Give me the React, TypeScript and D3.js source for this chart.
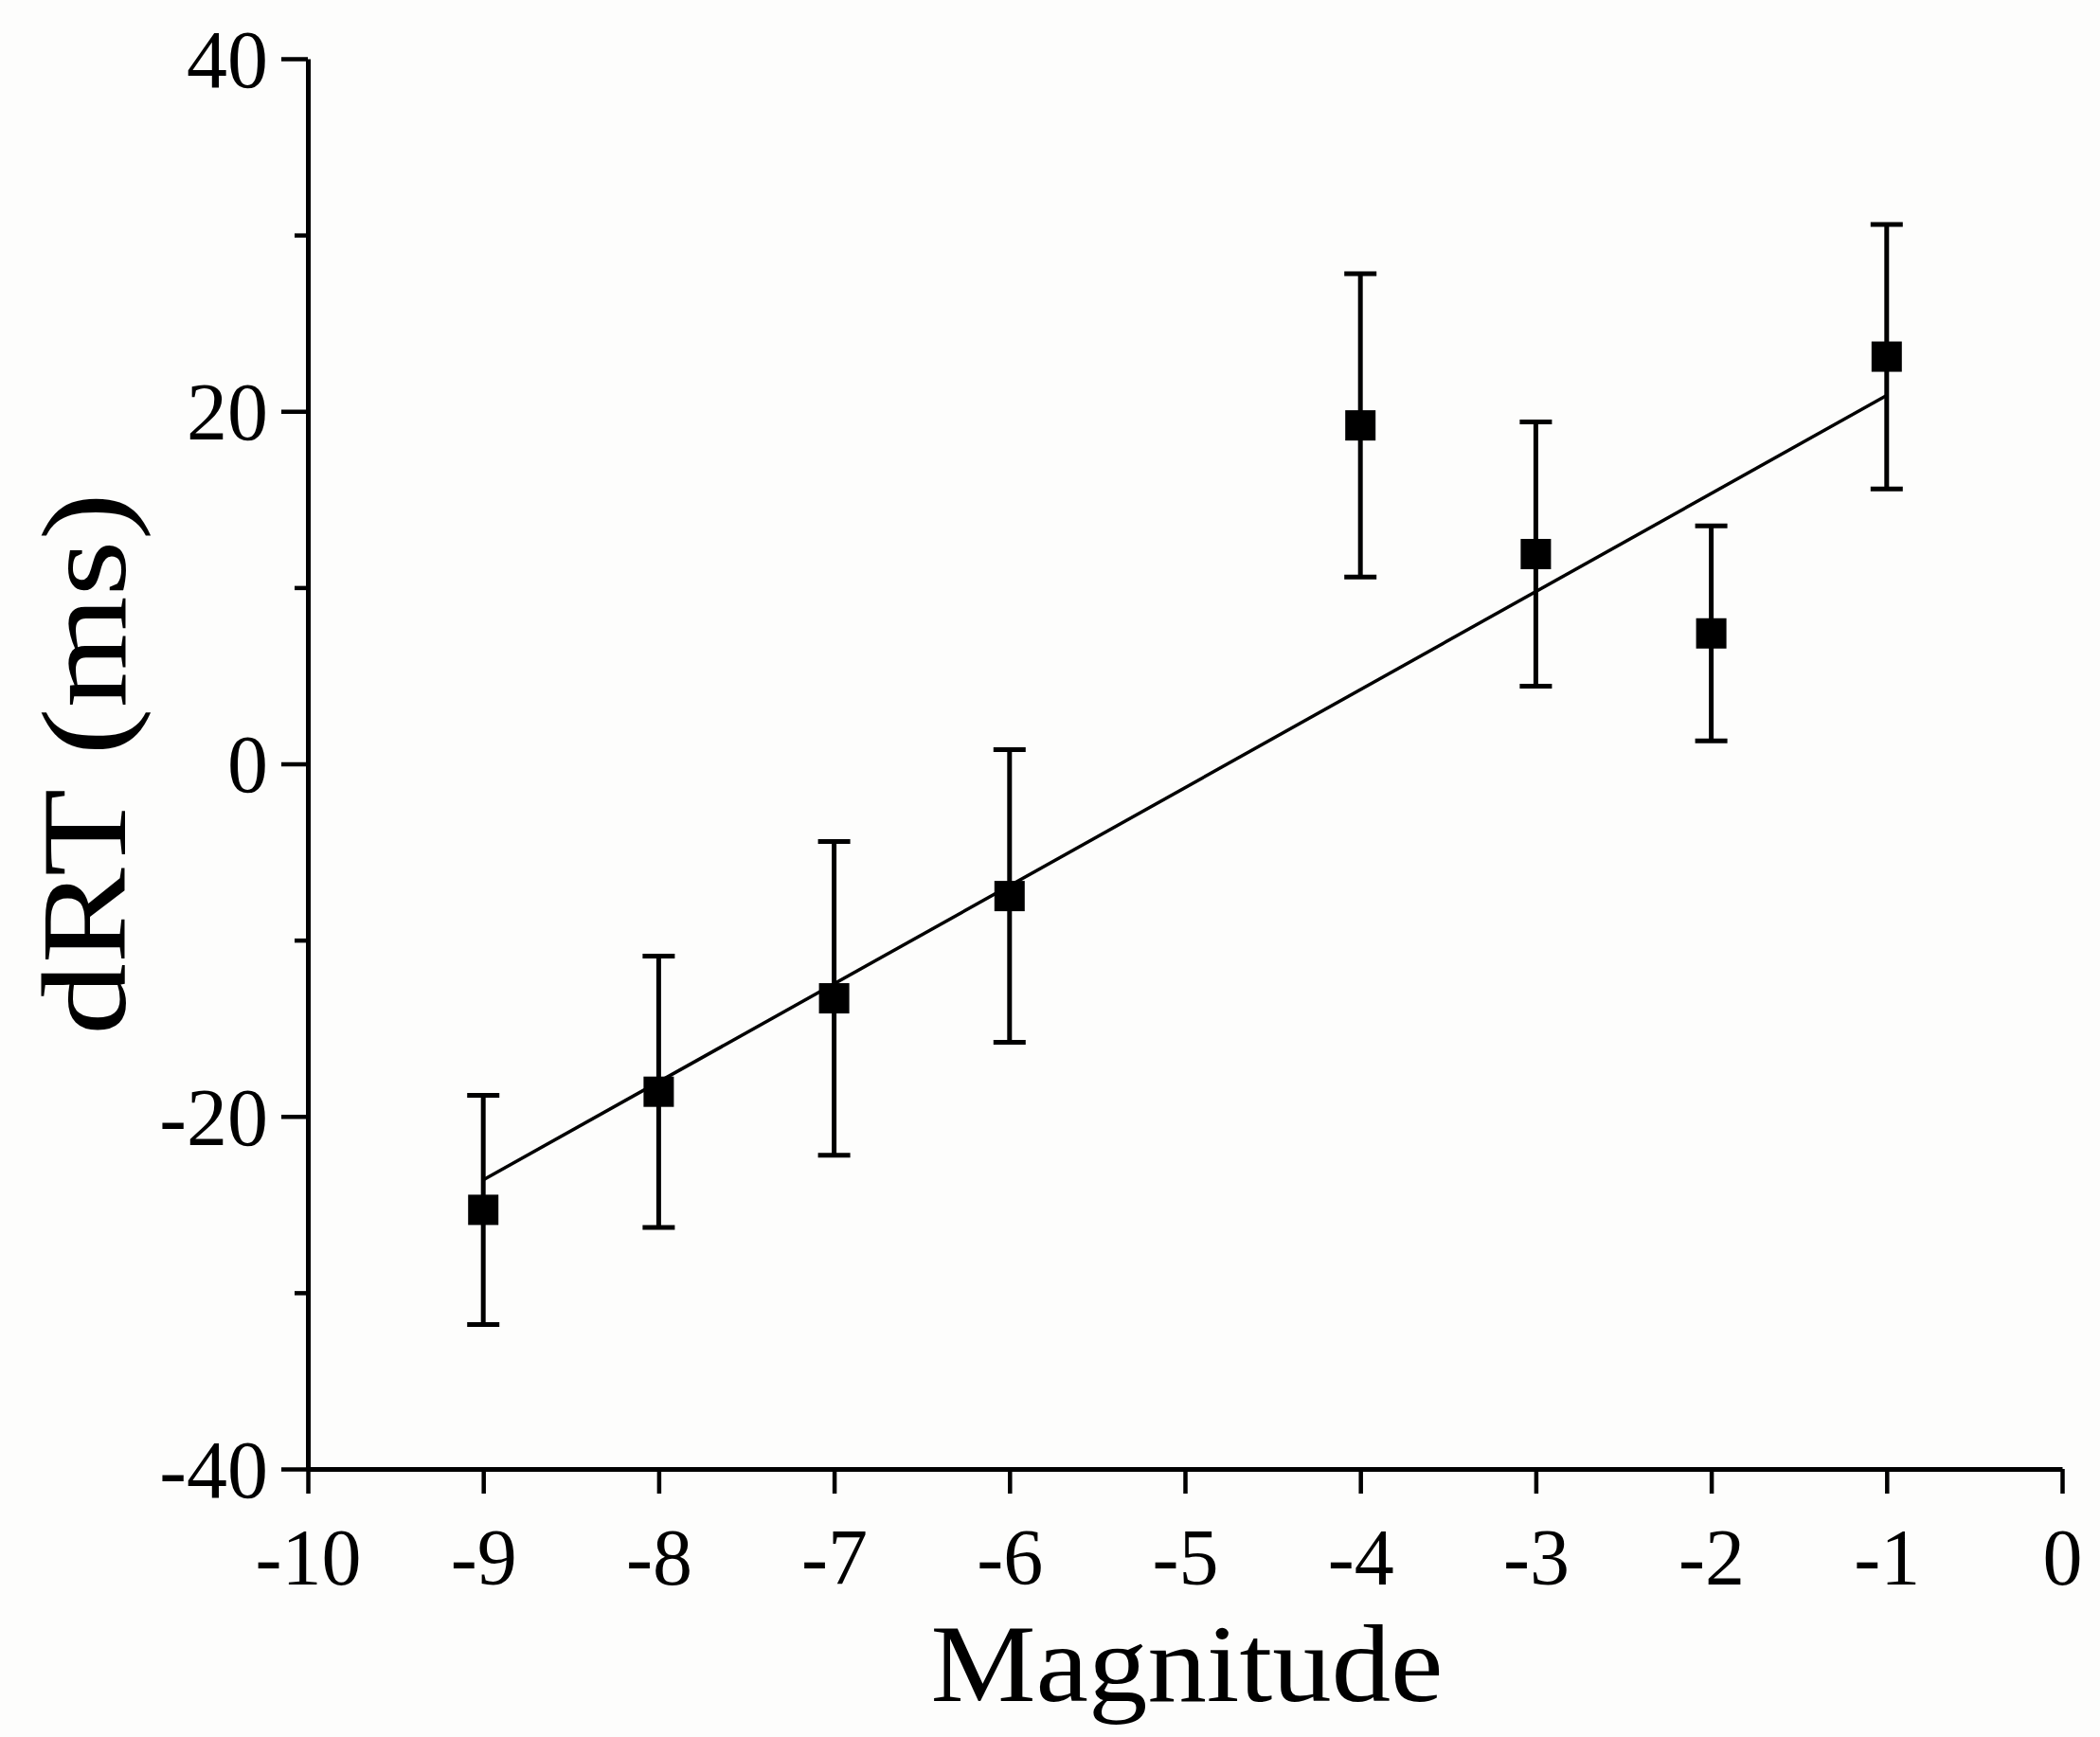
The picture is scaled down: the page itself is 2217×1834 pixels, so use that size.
import { useEffect, useRef } from "react";
import * as d3 from "d3";

// magnitude levels and mean dRT (ms) with error bar half-widths
const magnitudes = [-9, -8, -7, -6, -4, -3, -2, -1];
const meanRT = [-25.3, -18.6, -13.3, -7.5, 19.2, 11.9, 7.4, 23.1];
const errRT = [6.5, 7.7, 8.9, 8.3, 8.6, 7.5, 6.1, 7.5];

// linear fit endpoints
const fitX = [-9, -1];
const fitY = [-23.6, 20.9];

const xTicks = [-10, -9, -8, -7, -6, -5, -4, -3, -2, -1, 0];
const yTicks = [-40, -20, 0, 20, 40];
const yMinorTicks = [-30, -10, 10, 30];

const W = 2217;
const H = 1834;
const FONT = "'Liberation Serif', 'Times New Roman', serif";

export default function App() {
  const svgRef = useRef<SVGSVGElement>(null);

  useEffect(() => {
    if (!svgRef.current) return;
    const svg = d3.select(svgRef.current);
    svg.selectAll("*").remove();

    const margin = { top: 62, right: 40, bottom: 283, left: 325 };
    const x = d3.scaleLinear().domain([-10, 0]).range([margin.left, 2177]);
    const y = d3.scaleLinear().domain([-40, 40]).range([H - margin.bottom, margin.top]);
    const fmt = (d: d3.NumberValue) => String(d); // plain hyphen, like the original

    svg.append("rect").attr("width", W).attr("height", H).attr("fill", "#fdfdfc");

    // x axis
    const xAxis = svg
      .append("g")
      .attr("transform", `translate(0,${y(-40)})`)
      .call(
        d3.axisBottom(x).tickValues(xTicks).tickFormat(fmt).tickSize(26).tickPadding(36).tickSizeOuter(0),
      );
    xAxis.select(".domain").attr("stroke", "#000").attr("stroke-width", 5);
    xAxis.selectAll(".tick line").attr("stroke", "#000").attr("stroke-width", 4.5);
    xAxis
      .selectAll("text")
      .attr("font-family", FONT)
      .attr("font-size", 84)
      .attr("fill", "#000")
      .attr("dy", "0.71em");

    // y axis minor ticks
    svg
      .append("g")
      .attr("transform", `translate(${x(-10)},0)`)
      .call(d3.axisLeft(y).tickValues(yMinorTicks).tickSize(14).tickFormat(() => ""))
      .call((g) => g.select(".domain").remove())
      .call((g) => g.selectAll(".tick line").attr("stroke", "#000").attr("stroke-width", 4.5));

    // y axis
    const yAxis = svg
      .append("g")
      .attr("transform", `translate(${x(-10)},0)`)
      .call(
        d3.axisLeft(y).tickValues(yTicks).tickFormat(fmt).tickSize(28).tickPadding(14).tickSizeOuter(0),
      );
    yAxis.select(".domain").attr("stroke", "#000").attr("stroke-width", 5);
    yAxis.selectAll(".tick line").attr("stroke", "#000").attr("stroke-width", 4.5);
    yAxis
      .selectAll("text")
      .attr("font-family", FONT)
      .attr("font-size", 86)
      .attr("fill", "#000")
      .attr("dy", "0.34em");

    const pts = magnitudes.map((m, i) => ({ m, v: meanRT[i], e: errRT[i] }));
    const cap = 17;

    // error bars
    const eb = svg.append("g").attr("stroke", "#000").attr("stroke-width", 5);
    eb.selectAll("line.v")
      .data(pts)
      .enter()
      .append("line")
      .attr("x1", (d) => x(d.m))
      .attr("x2", (d) => x(d.m))
      .attr("y1", (d) => y(d.v + d.e))
      .attr("y2", (d) => y(d.v - d.e));
    eb.selectAll("line.top")
      .data(pts)
      .enter()
      .append("line")
      .attr("x1", (d) => x(d.m) - cap)
      .attr("x2", (d) => x(d.m) + cap)
      .attr("y1", (d) => y(d.v + d.e))
      .attr("y2", (d) => y(d.v + d.e));
    eb.selectAll("line.bot")
      .data(pts)
      .enter()
      .append("line")
      .attr("x1", (d) => x(d.m) - cap)
      .attr("x2", (d) => x(d.m) + cap)
      .attr("y1", (d) => y(d.v - d.e))
      .attr("y2", (d) => y(d.v - d.e));

    // fit line
    const line = d3
      .line<number>()
      .x((d) => x(d))
      .y((_, i) => y(fitY[i]));
    svg
      .append("path")
      .attr("d", line(fitX))
      .attr("fill", "none")
      .attr("stroke", "#000")
      .attr("stroke-width", 3.5);

    // markers
    const sq = 32;
    svg
      .append("g")
      .selectAll("rect")
      .data(pts)
      .enter()
      .append("rect")
      .attr("x", (d) => x(d.m) - sq / 2)
      .attr("y", (d) => y(d.v) - sq / 2)
      .attr("width", sq)
      .attr("height", sq)
      .attr("fill", "#000");

    // axis titles
    svg
      .append("text")
      .attr("x", 1253)
      .attr("y", 1796)
      .attr("text-anchor", "middle")
      .attr("font-family", FONT)
      .attr("font-size", 116)
      .attr("textLength", 541)
      .attr("lengthAdjust", "spacingAndGlyphs")
      .attr("fill", "#000")
      .text("Magnitude");

    svg
      .append("text")
      .attr("transform", `translate(132,${y(0)}) rotate(-90)`)
      .attr("text-anchor", "middle")
      .attr("font-family", FONT)
      .attr("font-size", 128)
      .attr("textLength", 573)
      .attr("lengthAdjust", "spacingAndGlyphs")
      .attr("fill", "#000")
      .text("dRT (ms)");
  }, []);

  return (
    <svg
      ref={svgRef}
      width={W}
      height={H}
      style={{ position: "absolute", left: 0, top: 0, display: "block" }}
    />
  );
}
